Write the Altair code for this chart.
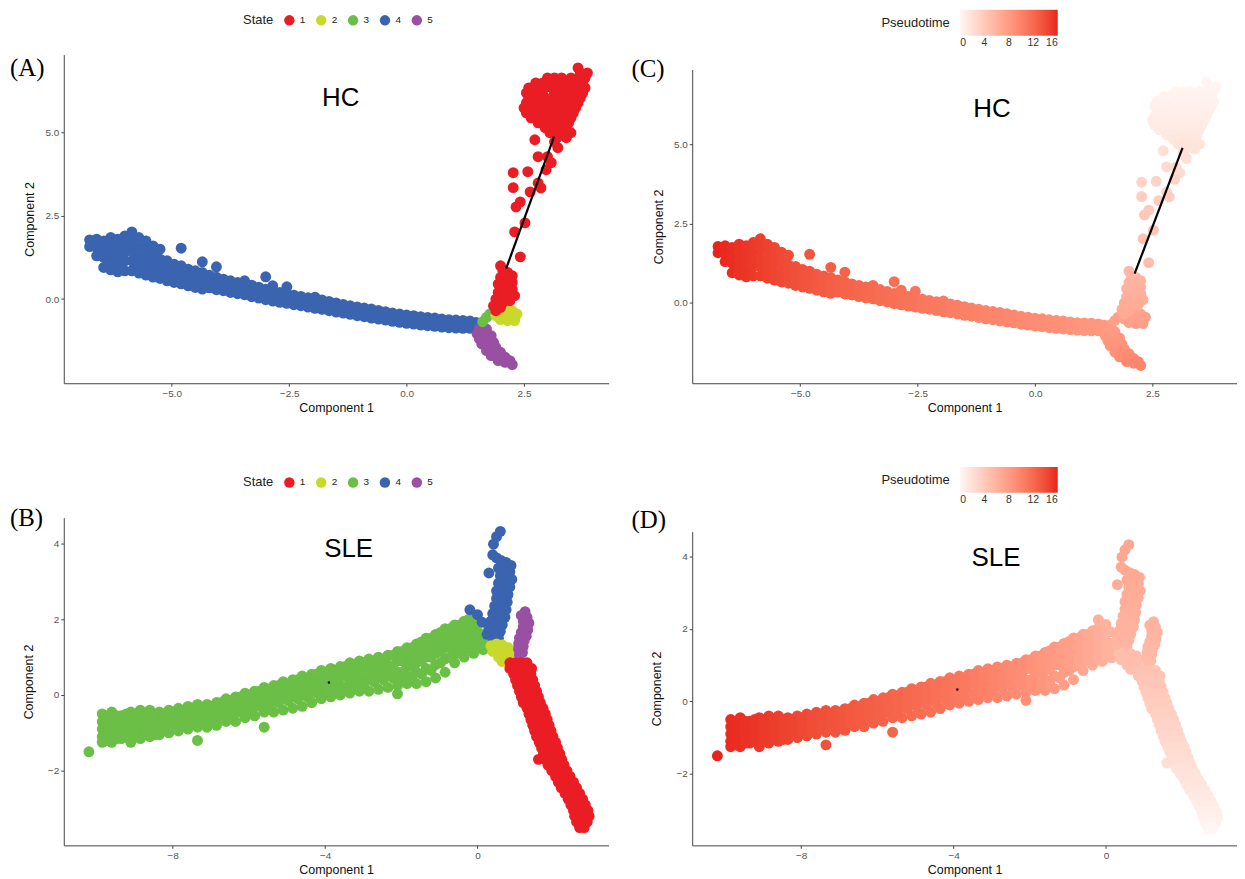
import altair as alt
import pandas as pd

# ---------------- HC (panels A / C) ----------------
# state 4 band: (x, pseudotime, [y values])
hc_state4_cols = [
    (-6.75, 16.0, [1.78, 1.58]),
    (-6.6, 15.8, [1.8, 1.55, 1.3]),
    (-6.45, 15.6, [1.75, 1.5, 1.25, 0.95]),
    (-6.3, 15.4, [1.85, 1.6, 1.35, 1.1, 0.88]),
    (-6.15, 15.2, [1.8, 1.55, 1.3, 1.05, 0.82]),
    (-6.0, 15.0, [1.9, 1.65, 1.4, 1.15, 0.85]),
    (-5.85, 14.8, [2.02, 1.75, 1.45, 1.15, 0.85]),
    (-5.7, 14.6, [1.85, 1.55, 1.25, 0.98, 0.78]),
    (-5.55, 14.4, [1.75, 1.45, 1.2, 0.95, 0.72]),
    (-5.4, 14.2, [1.6, 1.35, 1.1, 0.88, 0.66]),
    (-5.25, 14.0, [1.5, 1.2, 1.0, 0.8, 0.62]),
    (-5.1, 13.8, [1.15, 0.92, 0.72, 0.55]),
    (-4.95, 13.6, [1.05, 0.85, 0.66, 0.5]),
    (-4.8, 13.4, [1.53, 1.0, 0.8, 0.6, 0.46]),
    (-4.65, 13.2, [0.9, 0.7, 0.52, 0.4]),
    (-4.5, 13.0, [0.85, 0.65, 0.47, 0.35]),
    (-4.35, 12.8, [1.12, 0.8, 0.6, 0.42, 0.3]),
    (-4.2, 12.6, [0.72, 0.52, 0.34]),
    (-4.05, 12.4, [0.97, 0.66, 0.47, 0.28]),
    (-3.9, 12.3, [0.6, 0.43, 0.25]),
    (-3.75, 12.1, [0.55, 0.37, 0.2]),
    (-3.6, 12.0, [0.5, 0.32, 0.16]),
    (-3.45, 11.9, [0.55, 0.3, 0.13]),
    (-3.3, 11.7, [0.42, 0.23, 0.07]),
    (-3.15, 11.6, [0.36, 0.18, 0.03]),
    (-3.0, 11.5, [0.67, 0.3, 0.12, -0.02]),
    (-2.85, 11.3, [0.4, 0.25, 0.08, -0.06]),
    (-2.7, 11.2, [0.2, 0.04, -0.1]),
    (-2.55, 11.1, [0.37, 0.17, 0.0, -0.13]),
    (-2.4, 10.9, [0.12, -0.04, -0.17]),
    (-2.25, 10.8, [0.08, -0.08, -0.2]),
    (-2.1, 10.7, [0.04, -0.11, -0.24]),
    (-1.95, 10.6, [0.06, -0.14, -0.28]),
    (-1.8, 10.4, [-0.03, -0.18, -0.31]),
    (-1.65, 10.3, [-0.07, -0.22, -0.35]),
    (-1.5, 10.2, [-0.12, -0.26, -0.39]),
    (-1.35, 10.1, [-0.16, -0.3, -0.42]),
    (-1.2, 10.0, [-0.2, -0.34, -0.46]),
    (-1.05, 9.9, [-0.24, -0.37, -0.5]),
    (-0.9, 9.8, [-0.27, -0.41, -0.53]),
    (-0.75, 9.7, [-0.3, -0.44, -0.57]),
    (-0.6, 9.6, [-0.34, -0.48, -0.6]),
    (-0.45, 9.5, [-0.38, -0.51, -0.63]),
    (-0.3, 9.4, [-0.42, -0.55, -0.67]),
    (-0.15, 9.3, [-0.45, -0.58, -0.7]),
    (0.0, 9.2, [-0.48, -0.61, -0.73]),
    (0.15, 9.1, [-0.5, -0.63, -0.75]),
    (0.3, 9.0, [-0.53, -0.66, -0.78]),
    (0.45, 8.9, [-0.55, -0.68, -0.8]),
    (0.6, 8.8, [-0.57, -0.7, -0.82]),
    (0.75, 8.7, [-0.6, -0.72, -0.84]),
    (0.9, 8.6, [-0.62, -0.74, -0.86]),
    (1.05, 8.5, [-0.63, -0.75, -0.87]),
    (1.2, 8.4, [-0.64, -0.76, -0.88]),
    (1.35, 8.3, [-0.66, -0.78, -0.88]),
    (1.48, 8.2, [-0.7, -0.82]),
]

# state 1 top cluster: (y, pseudotime, [x values])
hc_state1_rows = [
    (6.95, 0.0, [3.65]),
    (6.8, 0.1, [3.7, 3.85]),
    (6.65, 0.2, [3.0, 3.15, 3.3, 3.5, 3.65, 3.8]),
    (6.5, 0.3, [2.75, 2.9, 3.05, 3.2, 3.45, 3.6, 3.75]),
    (6.35, 0.4, [2.6, 2.75, 2.95, 3.1, 3.3, 3.5, 3.65, 3.8]),
    (6.2, 0.5, [2.55, 2.7, 2.85, 3.15, 3.3, 3.45, 3.6, 3.75]),
    (6.05, 0.6, [2.6, 2.8, 2.95, 3.1, 3.25, 3.4, 3.55, 3.7]),
    (5.9, 0.7, [2.55, 2.7, 2.85, 3.0, 3.15, 3.35, 3.5, 3.65]),
    (5.75, 0.8, [2.5, 2.65, 2.8, 2.95, 3.1, 3.3, 3.45, 3.6]),
    (5.6, 0.9, [2.55, 2.7, 2.9, 3.05, 3.2, 3.4, 3.55]),
    (5.45, 1.0, [2.65, 2.85, 3.0, 3.15, 3.3, 3.5]),
    (5.3, 1.2, [2.8, 2.95, 3.1, 3.25, 3.45]),
    (5.15, 1.4, [2.95, 3.1, 3.25, 3.4]),
    (5.0, 1.6, [3.05, 3.2, 3.35, 3.5]),
    (4.85, 1.8, [3.2, 3.4]),
]

# state 1 stem points: (x, y, pseudotime)
hc_state1_pts = [
    (2.73, 4.79, 2.0), (3.22, 4.55, 2.0), (3.15, 4.73, 2.0), (2.8, 4.28, 2.5),
    (3.0, 4.28, 2.5), (3.08, 4.1, 2.5), (2.97, 3.89, 3.0), (2.58, 3.83, 3.0),
    (2.27, 3.8, 3.0), (2.27, 3.35, 3.5), (2.63, 3.22, 3.5), (2.8, 3.49, 3.0),
    (2.86, 3.34, 3.5), (2.42, 2.92, 4.0), (2.33, 2.77, 4.0), (2.52, 2.29, 4.5),
    (2.3, 2.02, 4.5), (2.42, 1.27, 5.0),
    (2.0, 1.0, 5.5), (2.05, 0.85, 5.6), (2.15, 0.8, 5.6), (2.25, 0.7, 5.7),
    (2.0, 0.65, 5.8), (2.1, 0.55, 5.9), (2.25, 0.5, 5.9), (1.95, 0.45, 6.0),
    (2.1, 0.35, 6.1), (2.25, 0.3, 6.1), (1.95, 0.2, 6.2), (2.05, 0.1, 6.3),
    (2.2, 0.15, 6.3), (2.3, 0.1, 6.3), (1.9, 0.0, 6.4), (2.05, -0.1, 6.5),
    (2.2, -0.05, 6.5), (1.85, -0.2, 6.6), (2.0, -0.25, 6.7), (1.9, -0.35, 6.8),
]
hc_state2_pts = [
    (1.95, -0.35, 7.2), (2.1, -0.3, 7.2), (2.25, -0.35, 7.3), (1.9, -0.5, 7.3),
    (2.05, -0.5, 7.4), (2.2, -0.5, 7.4), (2.3, -0.55, 7.5), (2.0, -0.62, 7.5),
    (2.15, -0.65, 7.6), (2.3, -0.65, 7.6), (2.35, -0.45, 7.5),
]
hc_state3_pts = [(1.62, -0.68, 7.8), (1.7, -0.55, 7.6), (1.77, -0.45, 7.5)]
hc_state5_pts = [
    (1.55, -0.9, 8.0), (1.7, -0.9, 8.0), (1.5, -1.05, 8.1), (1.65, -1.05, 8.2),
    (1.8, -1.1, 8.3), (1.55, -1.2, 8.3), (1.7, -1.25, 8.4), (1.85, -1.3, 8.5),
    (1.6, -1.35, 8.5), (1.75, -1.45, 8.7), (1.9, -1.45, 8.8), (1.7, -1.55, 8.8),
    (1.85, -1.6, 9.0), (2.0, -1.6, 9.1), (1.8, -1.7, 9.1), (1.95, -1.75, 9.3),
    (2.1, -1.75, 9.4), (1.95, -1.85, 9.5), (2.1, -1.9, 9.6), (2.2, -1.85, 9.7),
    (2.25, -1.97, 9.8),
]
hc_trajectory = [(2.12, 0.92, 3.14, 4.88)]

# ---------------- SLE (panels B / D) ----------------
sle_state3_cols = [
    (-10.2, 16.0, [-1.5]),
    (-9.85, 15.7, [-0.5, -0.7, -0.9, -1.1, -1.25]),
    (-9.6, 15.5, [-0.45, -0.65, -0.85, -1.05, -1.25]),
    (-9.35, 15.3, [-0.55, -0.75, -0.95, -1.15]),
    (-9.1, 15.1, [-0.45, -0.65, -0.85, -1.05, -1.25]),
    (-8.85, 14.9, [-0.4, -0.6, -0.8, -1.0, -1.15]),
    (-8.6, 14.7, [-0.4, -0.6, -0.8, -1.0, -1.1]),
    (-8.35, 14.5, [-0.45, -0.65, -0.85, -1.05]),
    (-8.1, 14.3, [-0.4, -0.6, -0.8, -1.0]),
    (-7.85, 14.1, [-0.35, -0.55, -0.75, -0.95]),
    (-7.6, 13.9, [-0.3, -0.5, -0.7, -0.9]),
    (-7.35, 13.7, [-0.25, -0.45, -0.65, -0.85, -1.2]),
    (-7.1, 13.5, [-0.25, -0.45, -0.65, -0.85]),
    (-6.85, 13.3, [-0.2, -0.4, -0.6, -0.8]),
    (-6.6, 13.1, [-0.1, -0.3, -0.5, -0.7]),
    (-6.35, 12.9, [-0.05, -0.25, -0.45, -0.7]),
    (-6.1, 12.7, [0.05, -0.15, -0.35, -0.6]),
    (-5.85, 12.5, [0.1, -0.1, -0.3, -0.55]),
    (-5.6, 12.3, [0.2, 0.0, -0.2, -0.45, -0.85]),
    (-5.35, 12.1, [0.25, 0.05, -0.15, -0.45]),
    (-5.1, 11.9, [0.35, 0.15, -0.05, -0.4]),
    (-4.85, 11.7, [0.4, 0.2, 0.0, -0.35]),
    (-4.6, 11.5, [0.5, 0.25, 0.05, -0.3]),
    (-4.35, 11.3, [0.55, 0.3, 0.1, -0.2]),
    (-4.1, 11.0, [0.65, 0.4, 0.15, -0.1]),
    (-3.85, 10.8, [0.7, 0.45, 0.2, -0.05]),
    (-3.6, 10.5, [0.75, 0.5, 0.25, 0.0]),
    (-3.35, 10.3, [0.85, 0.6, 0.35, 0.05]),
    (-3.1, 10.0, [0.9, 0.65, 0.4, 0.1]),
    (-2.85, 9.8, [0.95, 0.7, 0.45, 0.1]),
    (-2.6, 9.5, [1.0, 0.75, 0.5, 0.15]),
    (-2.35, 9.2, [1.05, 0.8, 0.55, 0.2]),
    (-2.1, 9.0, [1.15, 0.9, 0.6, 0.25, 0.03]),
    (-1.85, 8.7, [1.25, 1.0, 0.75, 0.5, 0.3]),
    (-1.6, 8.4, [1.35, 1.1, 0.85, 0.6, 0.3]),
    (-1.35, 8.1, [1.5, 1.25, 1.0, 0.7, 0.35]),
    (-1.1, 7.8, [1.6, 1.35, 1.1, 0.8, 0.45]),
    (-0.85, 7.4, [1.75, 1.5, 1.25, 0.95, 0.6]),
    (-0.6, 7.0, [1.85, 1.6, 1.35, 1.1, 0.85]),
    (-0.35, 6.6, [1.95, 1.7, 1.45, 1.2, 1.0]),
    (-0.1, 6.2, [2.05, 1.8, 1.55, 1.3, 1.1]),
    (0.15, 5.8, [1.6, 1.4, 1.2]),
    (0.35, 5.5, [1.45, 1.3]),
]
# extra cells read between the columns above
sle_state3_fill = [
    (-9.72, 15.6, [-0.6, -0.8, -1.0, -1.2]),
    (-9.47, 15.4, [-0.55, -0.75, -0.95, -1.15]),
    (-9.22, 15.2, [-0.5, -0.7, -0.9, -1.1]),
    (-8.97, 15.0, [-0.5, -0.7, -0.9, -1.1]),
    (-8.72, 14.8, [-0.5, -0.7, -0.9, -1.05]),
    (-8.47, 14.6, [-0.5, -0.7, -0.9, -1.05]),
    (-8.22, 14.4, [-0.5, -0.7, -0.9]),
    (-7.97, 14.2, [-0.45, -0.65, -0.85]),
    (-7.72, 14.0, [-0.4, -0.6, -0.8]),
    (-7.47, 13.8, [-0.35, -0.55, -0.75]),
    (-7.22, 13.6, [-0.35, -0.55, -0.75]),
    (-6.97, 13.4, [-0.3, -0.5, -0.7]),
    (-6.72, 13.2, [-0.2, -0.4, -0.6]),
    (-6.47, 13.0, [-0.15, -0.35, -0.55]),
    (-6.22, 12.8, [-0.05, -0.25, -0.45]),
    (-5.97, 12.6, [0.0, -0.2, -0.4]),
    (-5.72, 12.4, [0.1, -0.1, -0.3]),
    (-5.47, 12.2, [0.15, -0.05, -0.3]),
    (-5.22, 12.0, [0.25, 0.05, -0.2]),
    (-4.97, 11.8, [0.3, 0.1, -0.15]),
    (-4.72, 11.6, [0.4, 0.15, -0.1]),
    (-4.47, 11.4, [0.45, 0.2, -0.05]),
    (-4.22, 11.2, [0.55, 0.3, 0.05]),
    (-3.97, 10.9, [0.6, 0.35, 0.1]),
    (-3.72, 10.7, [0.65, 0.4, 0.15]),
    (-3.47, 10.4, [0.75, 0.5, 0.2]),
    (-3.22, 10.2, [0.8, 0.55, 0.25]),
    (-2.97, 9.9, [0.85, 0.6, 0.3]),
    (-2.72, 9.6, [0.9, 0.65, 0.35]),
    (-2.47, 9.3, [0.95, 0.7, 0.4]),
    (-2.22, 9.1, [1.05, 0.75, 0.45]),
    (-1.97, 8.8, [1.15, 0.9, 0.6, 0.4]),
    (-1.72, 8.5, [1.25, 1.0, 0.75, 0.45]),
    (-1.47, 8.2, [1.4, 1.15, 0.9, 0.55]),
    (-1.22, 7.9, [1.5, 1.25, 1.0, 0.65]),
    (-0.97, 7.6, [1.65, 1.4, 1.15, 0.85]),
    (-0.72, 7.2, [1.75, 1.5, 1.25, 1.0]),
    (-0.47, 6.8, [1.85, 1.6, 1.35, 1.1]),
    (-0.22, 6.4, [2.0, 1.75, 1.5, 1.25]),
    (0.02, 6.0, [1.9, 1.65, 1.45, 1.25]),
]
sle_state1_rows = [
    (0.85, 4.6, [0.85, 1.0, 1.15, 1.3]),
    (0.7, 4.5, [0.85, 1.0, 1.15, 1.3, 1.42]),
    (0.55, 4.3, [0.95, 1.1, 1.25, 1.4]),
    (0.4, 4.2, [1.0, 1.15, 1.3, 1.45]),
    (0.25, 4.0, [1.05, 1.2, 1.35, 1.5]),
    (0.1, 3.9, [1.1, 1.25, 1.4, 1.55]),
    (-0.05, 3.7, [1.15, 1.3, 1.45, 1.6]),
    (-0.2, 3.6, [1.2, 1.35, 1.5, 1.65]),
    (-0.35, 3.4, [1.3, 1.45, 1.6, 1.72]),
    (-0.5, 3.3, [1.35, 1.5, 1.65, 1.78]),
    (-0.65, 3.1, [1.4, 1.55, 1.7, 1.83]),
    (-0.8, 3.0, [1.45, 1.6, 1.75, 1.88]),
    (-0.95, 2.8, [1.5, 1.65, 1.8, 1.93]),
    (-1.1, 2.7, [1.55, 1.7, 1.85, 1.98]),
    (-1.25, 2.5, [1.62, 1.77, 1.92, 2.05]),
    (-1.4, 2.4, [1.68, 1.83, 1.98, 2.1]),
    (-1.55, 2.2, [1.73, 1.88, 2.03, 2.16]),
    (-1.7, 2.1, [1.6, 1.78, 1.93, 2.08, 2.21]),
    (-1.85, 1.9, [1.85, 2.0, 2.15, 2.27]),
    (-2.0, 1.8, [1.95, 2.08, 2.22, 2.35]),
    (-2.15, 1.6, [2.05, 2.18, 2.3, 2.43]),
    (-2.3, 1.5, [2.12, 2.25, 2.38, 2.52]),
    (-2.45, 1.3, [2.2, 2.33, 2.47, 2.6]),
    (-2.6, 1.2, [2.3, 2.42, 2.55, 2.68]),
    (-2.75, 1.0, [2.38, 2.5, 2.63, 2.76]),
    (-2.9, 0.9, [2.45, 2.58, 2.7, 2.83]),
    (-3.05, 0.7, [2.52, 2.65, 2.78, 2.9]),
    (-3.2, 0.5, [2.55, 2.7, 2.83, 2.93]),
    (-3.35, 0.3, [2.6, 2.75, 2.88]),
    (-3.5, 0.1, [2.68, 2.8]),
]
sle_state4_pts = [
    (0.6, 4.32, 7.0), (0.5, 4.18, 7.0), (0.42, 3.98, 6.9), (0.4, 3.7, 6.8),
    (0.5, 3.62, 6.8), (0.3, 3.22, 6.6), (0.62, 3.55, 6.8), (0.75, 3.5, 6.8),
    (0.88, 3.42, 6.7), (0.55, 3.35, 6.7), (0.7, 3.3, 6.7), (0.85, 3.25, 6.6),
    (0.6, 3.15, 6.6), (0.75, 3.05, 6.5), (0.9, 3.05, 6.5), (0.55, 2.95, 6.5),
    (0.7, 2.85, 6.4), (0.85, 2.85, 6.4), (0.5, 2.75, 6.4), (0.65, 2.65, 6.3),
    (0.8, 2.65, 6.3), (0.5, 2.55, 6.3), (0.62, 2.45, 6.2), (0.78, 2.45, 6.2),
    (0.45, 2.35, 6.2), (0.6, 2.25, 6.1), (0.75, 2.25, 6.1), (0.4, 2.15, 6.0),
    (0.55, 2.05, 6.0), (0.72, 2.05, 6.0), (0.35, 1.95, 5.9), (0.5, 1.85, 5.9),
    (0.65, 1.85, 5.9), (0.3, 1.75, 5.8), (0.45, 1.65, 5.8), (0.6, 1.68, 5.8),
    (0.25, 1.6, 5.7), (0.4, 1.52, 5.7), (0.55, 1.5, 5.7), (-0.2, 2.25, 6.2),
    (0.0, 2.12, 6.0), (0.12, 1.92, 5.9),
]
sle_state2_pts = [
    (0.35, 1.3, 5.0), (0.5, 1.35, 5.0), (0.65, 1.32, 5.0), (0.8, 1.25, 5.0),
    (0.4, 1.15, 5.0), (0.55, 1.15, 5.0), (0.7, 1.12, 5.0), (0.82, 1.1, 5.0),
    (0.55, 1.0, 4.9), (0.7, 0.97, 4.9), (0.82, 0.98, 4.9), (0.65, 0.88, 4.8),
]
sle_state5_pts = [
    (1.25, 2.2, 6.0), (1.15, 2.1, 6.0), (1.3, 2.05, 5.9), (1.2, 1.95, 5.9),
    (1.35, 1.9, 5.8), (1.2, 1.8, 5.8), (1.32, 1.72, 5.7), (1.15, 1.65, 5.7),
    (1.28, 1.55, 5.6), (1.1, 1.5, 5.6), (1.22, 1.42, 5.5), (1.08, 1.35, 5.5),
    (1.2, 1.28, 5.4), (1.05, 1.2, 5.4), (1.18, 1.12, 5.3), (1.1, 1.05, 5.3),
]
sle_marker = [(-3.9, 0.33)]

state_names = ["1", "2", "3", "4", "5"]
state_colors = ["#EA1D24", "#C9D92C", "#6BBE46", "#3A64AF", "#994FA2"]
pt_colors = ["#FFF6F3", "#E8231D"]
pt_ticks = [0, 4, 8, 12, 16]


def from_cols(cols, state):
    return [(x, y, state, pt) for x, pt, ys in cols for y in ys]


def from_rows(rws, state):
    return [(x, y, state, pt) for y, pt, xs in rws for x in xs]


def from_pts(pts, state):
    return [(x, y, state, pt) for x, y, pt in pts]


hc_rows = (from_cols(hc_state4_cols, "4") + from_pts(hc_state5_pts, "5")
           + from_pts(hc_state3_pts, "3") + from_pts(hc_state2_pts, "2")
           + from_rows(hc_state1_rows, "1") + from_pts(hc_state1_pts, "1"))
sle_rows = (from_cols(sle_state3_cols, "3") + from_cols(sle_state3_fill, "3")
            + from_pts(sle_state4_pts, "4")
            + from_pts(sle_state5_pts, "5") + from_pts(sle_state2_pts, "2")
            + from_rows(sle_state1_rows, "1"))
hc_df = pd.DataFrame(hc_rows, columns=["x", "y", "state", "pt"])
sle_df = pd.DataFrame(sle_rows, columns=["x", "y", "state", "pt"])
hc_line = pd.DataFrame(hc_trajectory, columns=["x", "y", "x2", "y2"])
sle_dot = pd.DataFrame(sle_marker, columns=["x", "y"])

W = 547
H_TOP = 330
H_BOT = 329
PT_SIZE = 120


def state_legend(ly):
    return alt.Legend(title="State", orient="none", legendX=180, legendY=ly,
                      direction="horizontal", titleOrient="left", titlePadding=10,
                      symbolType="circle", symbolSize=110, symbolStrokeWidth=0,
                      labelOffset=5, columnPadding=10, padding=0,
                      labelFontSize=10, titleFontSize=13, titleFontWeight="normal",
                      titleColor="#222222", labelColor="#222222")


def pt_legend(ly):
    return alt.Legend(title="Pseudotime", orient="none", legendX=190, legendY=ly,
                      direction="horizontal", titleOrient="left", titlePadding=10,
                      gradientLength=98, gradientThickness=26, gradientStrokeWidth=0,
                      values=pt_ticks, labelAlign="center", padding=0,
                      labelFontSize=10.5, titleFontSize=13, titleFontWeight="normal",
                      titleColor="#222222", labelColor="#333333")


def text_layer(txt, x, y, size, font):
    return alt.Chart(pd.DataFrame({"t": [txt]})).mark_text(
        font=font, fontSize=size, align="left" if txt.startswith("(") else "center",
        baseline="middle", color="black"
    ).encode(text="t:N", x=alt.value(x), y=alt.value(y))


def panel(df, xdom, ydom, xvals, yvals, fmt, color, yrange, h, title_txt, tx, ty,
          letter, lx, ly, ytitle_pad, line_df=None, dot_df=None):
    xs = alt.Scale(domain=xdom, nice=False, zero=False)
    ys = alt.Scale(domain=ydom, nice=False, zero=False, range=yrange)
    xax = alt.Axis(title="Component 1", values=xvals, format=fmt, titlePadding=3)
    yax = alt.Axis(title="Component 2", values=yvals, format=fmt, titlePadding=ytitle_pad)
    pts = alt.Chart(df).mark_circle(size=PT_SIZE, opacity=1).encode(
        x=alt.X("x:Q", scale=xs, axis=xax),
        y=alt.Y("y:Q", scale=ys, axis=yax),
        color=color,
    )
    layers = [pts]
    if line_df is not None:
        layers.append(alt.Chart(line_df).mark_rule(color="black", strokeWidth=2.2).encode(
            x=alt.X("x:Q", scale=xs, axis=xax), y=alt.Y("y:Q", scale=ys, axis=yax),
            x2="x2:Q", y2="y2:Q"))
    if dot_df is not None:
        layers.append(alt.Chart(dot_df).mark_circle(size=6, color="black", opacity=1).encode(
            x=alt.X("x:Q", scale=xs, axis=xax), y=alt.Y("y:Q", scale=ys, axis=yax)))
    layers.append(text_layer(title_txt, tx, ty, 26, "Liberation Sans"))
    layers.append(text_layer(letter, lx, ly, 25, "Liberation Serif"))
    return alt.layer(*layers).properties(width=W, height=h)


state_color_top = alt.Color("state:N", scale=alt.Scale(domain=state_names, range=state_colors),
                            legend=state_legend(-40))
state_color_bot = alt.Color("state:N", scale=alt.Scale(domain=state_names, range=state_colors),
                            legend=state_legend(-41))
pt_color_top = alt.Color("pt:Q", scale=alt.Scale(domain=[0, 16], range=pt_colors, interpolate="lab"),
                         legend=pt_legend(-45))
pt_color_bot = alt.Color("pt:Q", scale=alt.Scale(domain=[0, 16], range=pt_colors, interpolate="lab"),
                         legend=pt_legend(-51))

hc_x = [-7.3, 4.3]
hc_y = [-2.53, 7.35]
sle_x = [-10.86, 3.44]
sle_y = [-3.97, 4.68]

pA = panel(hc_df, hc_x, hc_y, [-5, -2.5, 0, 2.5], [0, 2.5, 5], ".1f", state_color_top,
           [H_TOP, 0], H_TOP, "HC", 278, 44, "(A)", -54, 14, 8, line_df=hc_line)
pC = panel(hc_df, hc_x, hc_y, [-5, -2.5, 0, 2.5], [0, 2.5, 5], ".1f", pt_color_top,
           [H_TOP, 15], H_TOP, "HC", 301, 55, "(C)", -61, 15, 8, line_df=hc_line)
pB = panel(sle_df, sle_x, sle_y, [-8, -4, 0], [-2, 0, 2, 4], "d", state_color_bot,
           [H_BOT, 0], H_BOT, "SLE", 286, 31, "(B)", -54, 0, 12, dot_df=sle_dot)
pD = panel(sle_df, sle_x, sle_y, [-8, -4, 0], [-2, 0, 2, 4], "d", pt_color_bot,
           [H_BOT, 14], H_BOT, "SLE", 305, 40, "(D)", -61, 2, 12, dot_df=sle_dot)

chart = alt.concat(pA, pC, pB, pD, columns=2, spacing={"row": 135, "column": 84},
                   bounds="flush").resolve_scale(
    color="independent", x="independent", y="independent"
).properties(
    padding={"left": 2, "top": 0, "right": 0, "bottom": 0}
).configure_view(stroke=None).configure_axis(
    grid=False, domainColor="#444444", domainWidth=1, tickColor="#444444", tickSize=3,
    tickWidth=1, labelColor="#555555", labelFontSize=10, labelFont="Liberation Sans",
    titleFont="Liberation Sans", titleFontSize=12.5, titleFontWeight="normal",
    titleColor="#111111", labelPadding=2
).configure_legend(
    labelFont="Liberation Sans", titleFont="Liberation Sans"
)

chart.save("out.html", embed_options={"renderer": "svg", "actions": False})
